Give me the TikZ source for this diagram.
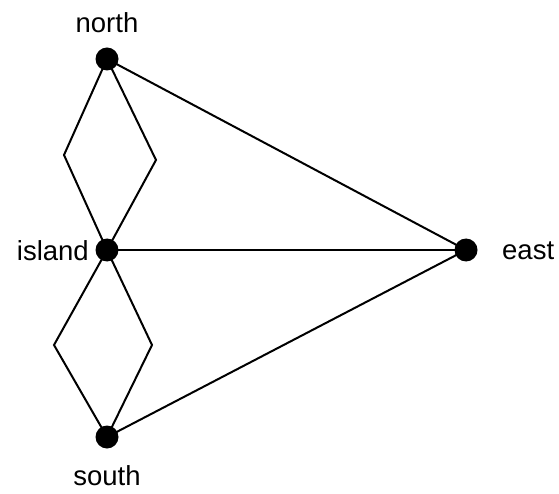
\documentclass[tikz,border=0pt]{standalone}
\usepackage{fontspec}
\setmainfont{Liberation Sans}
\begin{document}
\begin{tikzpicture}[x=1pt,y=-1pt,
  vtx/.style={circle,fill=black,inner sep=0pt,minimum size=23pt},
  lbl/.style={font=\fontsize{27.5}{32}\selectfont,inner sep=0pt},
  edge/.style={line width=2pt,line join=miter}]
\useasboundingbox (0,0) rectangle (559,494);
\node[vtx] (north) at (107,59) {};
\node[vtx] (island) at (107,250) {};
\node[vtx] (south) at (107,437) {};
\node[vtx] (east) at (466,250) {};
\coordinate (nl) at (64,155);
\coordinate (nr) at (156,160);
\coordinate (sl) at (54,345);
\coordinate (sr) at (152,345);
\node[lbl] (tn) at (107,23) {north};
\node[lbl,anchor=east] (ti) at (89,251) {island};
\node[lbl,anchor=west] (te) at (502,251) {east};
\node[lbl] (ts) at (107,476) {south};
\draw[edge] (north.center) -- (nl) -- (island.center);
\draw[edge] (north.center) -- (nr) -- (island.center);
\draw[edge] (island.center) -- (sl) -- (south.center);
\draw[edge] (island.center) -- (sr) -- (south.center);
\draw[edge] (north.center) -- (east.center);
\draw[edge] (island.center) -- (east.center);
\draw[edge] (south.center) -- (east.center);
\end{tikzpicture}
\end{document}
